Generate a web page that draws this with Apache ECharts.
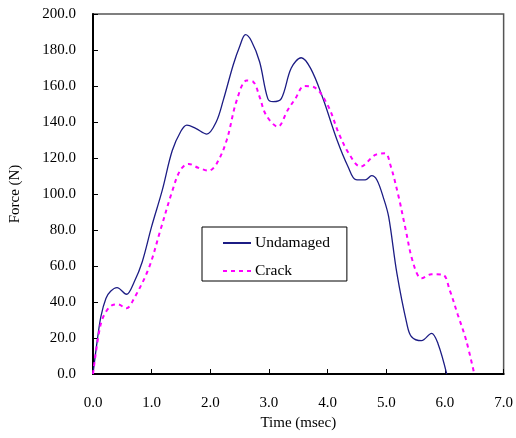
<!DOCTYPE html>
<html><head><meta charset="utf-8">
<script src="https://cdn.jsdelivr.net/npm/echarts@6/dist/echarts.min.js"></script>
<style>html,body{margin:0;padding:0;background:#fff}#c{width:516px;height:438px}</style>
</head><body><div id="c"></div>
<script>
const xTicks = [0, 1, 2, 3, 4, 5, 6, 7];
const yTicks = [0, 20, 40, 60, 80, 100, 120, 140, 160, 180, 200];
const timeUndamaged = [0, 0.07, 0.135, 0.22, 0.3, 0.41, 0.57, 0.7, 0.84, 1.0, 1.18, 1.35, 1.5, 1.6, 1.75, 1.94, 2.1, 2.22, 2.39, 2.5, 2.6, 2.7, 2.84, 2.98, 3.07, 3.21, 3.38, 3.55, 3.71, 3.91, 4.16, 4.35, 4.48, 4.64, 4.75, 4.84, 4.95, 5.04, 5.18, 5.35, 5.43, 5.6, 5.77, 5.88, 6.03];
const forceUndamaged = [0, 18, 32, 42, 46, 48, 44.3, 51, 62.4, 82, 102, 124, 135, 138.3, 136.5, 133.3, 140, 152, 171.7, 182, 188.5, 185, 173.5, 153, 151.3, 153, 170, 175.7, 169.8, 154, 130, 115, 108, 107.8, 110.2, 107.8, 98, 87.4, 56, 28, 20.7, 18.5, 22.6, 17, 0];
const timeCrack = [0, 0.11, 0.19, 0.33, 0.42, 0.57, 0.7, 0.95, 1.15, 1.35, 1.49, 1.63, 1.8, 1.97, 2.11, 2.28, 2.45, 2.62, 2.73, 2.84, 2.95, 3.15, 3.32, 3.45, 3.6, 3.77, 4.0, 4.19, 4.36, 4.56, 4.81, 4.98, 5.07, 5.21, 5.32, 5.46, 5.6, 5.77, 5.97, 6.08, 6.22, 6.36, 6.5];
const forceCrack = [0, 24.4, 32.8, 38.3, 38.7, 36.5, 42, 58.7, 80, 101.5, 113.3, 116.7, 114.5, 113, 117, 130, 152, 163, 162.4, 154, 143.9, 137.4, 146.7, 153, 160, 159.3, 149.4, 133.7, 122.6, 115.2, 121.7, 122.6, 116.1, 98.5, 81.8, 61.5, 53.2, 55.4, 55, 46.7, 32.8, 18.9, 0];

const font = 'Liberation Serif, Times New Roman, serif';
const zip = (a, b) => a.map((v, i) => [v, b[i]]);
const chart = echarts.init(document.getElementById('c'), null, {renderer: 'canvas'});
chart.setOption({
  animation: false,
  backgroundColor: '#fff',
  grid: {left: 92, right: 10, top: 14, bottom: 64, show: true, borderColor: '#555', borderWidth: 1.5, containLabel: false},
  legend: {
    orient: 'vertical', left: 202, top: 227,
    backgroundColor: '#fff', borderColor: '#000', borderWidth: 1, borderRadius: 0,
    padding: [8, 17, 2, 20], itemWidth: 28, itemHeight: 14, itemGap: 12,
    itemStyle: {opacity: 0},
    textStyle: {fontFamily: font, fontSize: 15.5, color: '#000', padding: [0, 0, 0, -1]},
    data: ['Undamaged', 'Crack']
  },
  xAxis: {
    type: 'value', min: xTicks[0], max: xTicks[xTicks.length - 1], interval: 1,
    name: 'Time (msec)', nameLocation: 'middle', nameGap: 42,
    nameTextStyle: {fontFamily: font, fontSize: 15, color: '#000'},
    axisLine: {show: true, onZero: false, lineStyle: {color: '#000', width: 2}},
    axisTick: {show: true, inside: true, length: 5, lineStyle: {color: '#000', width: 1}},
    axisLabel: {fontFamily: font, fontSize: 15, color: '#000', margin: 22, formatter: v => v.toFixed(1)},
    splitLine: {show: false}
  },
  yAxis: {
    type: 'value', min: yTicks[0], max: yTicks[yTicks.length - 1], interval: 20,
    name: 'Force (N)', nameLocation: 'middle', nameGap: 70, nameRotate: 90,
    nameTextStyle: {fontFamily: font, fontSize: 15, color: '#000'},
    axisLine: {show: true, onZero: false, lineStyle: {color: '#000', width: 2}},
    axisTick: {show: true, inside: true, length: 5, lineStyle: {color: '#000', width: 1}},
    axisLabel: {fontFamily: font, fontSize: 15, color: '#000', margin: 17, formatter: v => v.toFixed(1)},
    splitLine: {show: false}
  },
  series: [
    {name: 'Undamaged', type: 'line', data: zip(timeUndamaged, forceUndamaged), smooth: 0.35, symbol: 'none',
     lineStyle: {color: '#1c1c84', width: 1.3}, itemStyle: {color: '#1c1c84'}},
    {name: 'Crack', type: 'line', data: zip(timeCrack, forceCrack), smooth: 0.35, symbol: 'none',
     lineStyle: {color: '#ff00ff', width: 2, type: [4, 4]}, itemStyle: {color: '#ff00ff'}}
  ]
});
</script></body></html>
